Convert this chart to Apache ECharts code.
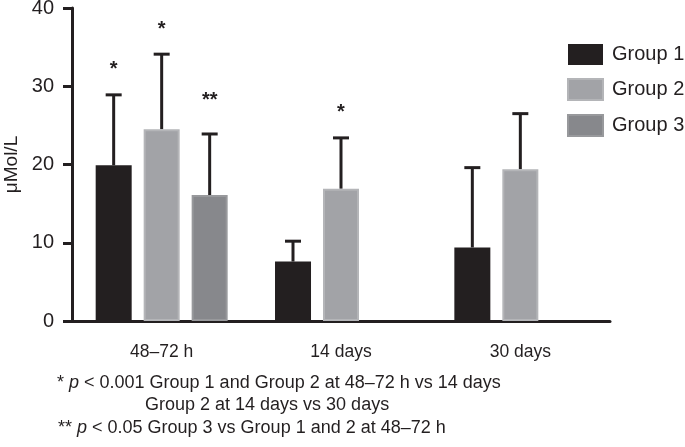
<!DOCTYPE html>
<html><head><meta charset="utf-8">
<script src="https://cdn.jsdelivr.net/npm/echarts@6/dist/echarts.min.js"></script>
<style>html,body{margin:0;padding:0;background:#fff}#c{width:685px;height:447px}</style>
</head><body><div id="c"></div>
<script>
const categories = ['48–72 h', '14 days', '30 days'];
const seriesNames = ['Group 1', 'Group 2', 'Group 3'];
const group1Mean = [19.9, 7.6, 9.4];
const group2Mean = [24.5, 16.9, 19.4];
const group3Mean = [16.1, null, null];
const group1Upper = [28.9, 10.2, 19.6];
const group2Upper = [34.1, 23.4, 26.5];
const group3Upper = [23.9, null, null];
const group1Marks = ['*', '', ''];
const group2Marks = ['*', '*', ''];
const group3Marks = ['**', '', ''];
const yTicks = [0, 10, 20, 30, 40];

const font = 'Liberation Sans, Arial, Helvetica, sans-serif';
const ink = '#231f20';
const fills = ['#231f20', '#a2a3a7', '#87888c'];
const borders = ['#231f20', '#b4b5b8', '#98999c'];
const means = [group1Mean, group2Mean, group3Mean];
const uppers = [group1Upper, group2Upper, group3Upper];
const marks = [group1Marks, group2Marks, group3Marks];

const BAR_W = 36, STEP = 48;

const chart = echarts.init(document.getElementById('c'));
const series = [];
seriesNames.forEach((name, i) => {
  series.push({
    name, type: 'bar', data: means[i], barWidth: BAR_W, barGap: '33.3%',
    itemStyle: { color: fills[i], borderColor: borders[i], borderWidth: i === 0 ? 0 : 2 },
    z: 2
  });
});
seriesNames.forEach((name, i) => {
  const data = categories.map((c, k) => [k, means[i][k], uppers[i][k], marks[i][k]]);
  series.push({
    type: 'custom', name: name + ' err', z: 1,
    data: data.filter(d => d[1] != null),
    encode: { x: 0, y: [1, 2] },
    renderItem: function (params, api) {
      const k = api.value(0);
      const base = api.coord([k, api.value(1)]);
      const top = api.coord([k, api.value(2)]);
      const x = base[0] + (i - 1) * STEP;
      const cap = 8;
      const mark = data.find(d => d[0] === k)[3];
      const children = [
        { type: 'line', shape: { x1: x, y1: base[1], x2: x, y2: top[1] }, style: { stroke: ink, lineWidth: 3 } },
        { type: 'line', shape: { x1: x - cap, y1: top[1], x2: x + cap, y2: top[1] }, style: { stroke: ink, lineWidth: 3 } }
      ];
      if (mark) {
        const off = mark.length > 1 ? 33 : 25;
        children.push({ type: 'text', x: x, y: top[1] - off, style: { text: mark, font: 'bold 20px ' + font, fill: ink, align: 'center', verticalAlign: 'middle' } });
      }
      return { type: 'group', children };
    }
  });
});

const rich = { i: { fontStyle: 'italic', fontSize: 18, fontFamily: font, color: ink } };

chart.setOption({
  animation: false,
  textStyle: { fontFamily: font, color: ink },
  grid: { left: 72, right: 75, top: 8, bottom: 126, outerBoundsMode: 'none', containLabel: false },
  legend: {
    data: seriesNames, orient: 'vertical', left: 567, top: 44, icon: 'rect', padding: 0,
    itemWidth: 35, itemHeight: 21, itemGap: 13,
    textStyle: { fontSize: 20, lineHeight: 21, color: ink, fontFamily: font, padding: [0, 0, 0, 4] }
  },
  xAxis: {
    type: 'category', data: categories,
    axisLine: { lineStyle: { color: ink, width: 3 } },
    axisTick: { alignWithLabel: true, length: 8, lineStyle: { color: ink, width: 3 } },
    axisLabel: { fontSize: 17.5, color: ink, margin: 22, fontFamily: font }
  },
  yAxis: {
    type: 'value', min: yTicks[0], max: yTicks[yTicks.length - 1], interval: 10,
    name: 'μMol/L', nameLocation: 'middle', nameGap: 48, nameRotate: 90,
    nameTextStyle: { fontSize: 19, color: ink, fontFamily: font },
    axisLine: { show: true, lineStyle: { color: ink, width: 3 } },
    axisTick: { show: true, length: 9, lineStyle: { color: ink, width: 3 } },
    axisLabel: { fontSize: 20, color: ink, margin: 18, fontFamily: font },
    splitLine: { show: false }
  },
  series,
  graphic: [
    { type: 'text', x: 57, y: 383, style: { text: '* {i|p} < 0.001 Group 1 and Group 2 at 48–72 h vs 14 days', font: '18px ' + font, fill: ink, verticalAlign: 'middle', rich } },
    { type: 'text', x: 145, y: 405, style: { text: 'Group 2 at 14 days vs 30 days', font: '18px ' + font, fill: ink, verticalAlign: 'middle' } },
    { type: 'text', x: 58, y: 428, style: { text: '** {i|p} < 0.05 Group 3 vs Group 1 and 2 at 48–72 h', font: '18px ' + font, fill: ink, verticalAlign: 'middle', rich } }
  ]
});
</script></body></html>
